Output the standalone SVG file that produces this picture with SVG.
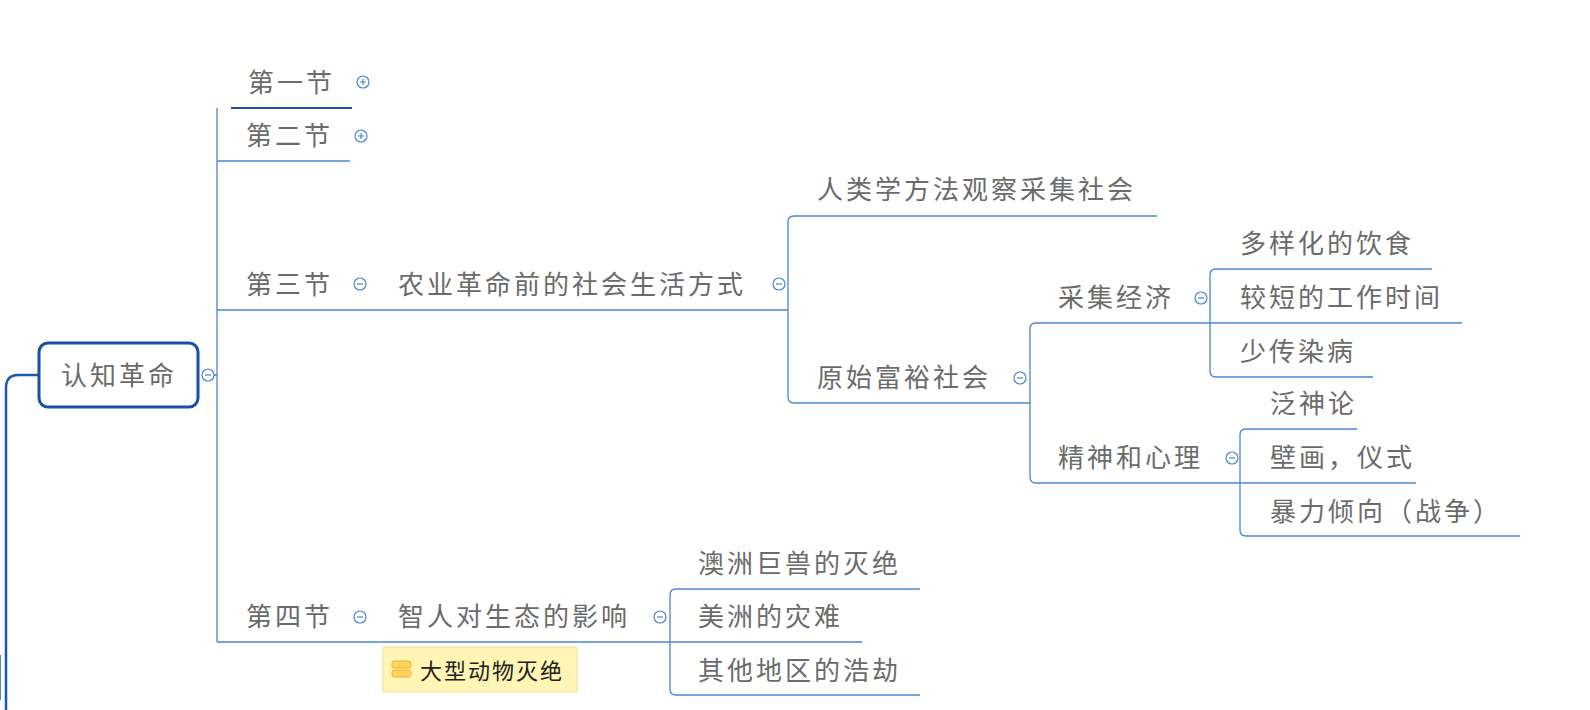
<svg xmlns="http://www.w3.org/2000/svg" width="1590" height="710" viewBox="0 0 1590 710">
<style>
text{font-family:"Liberation Sans","Noto Sans CJK SC",sans-serif;font-size:26px;letter-spacing:3px;fill:#6b6b6b}
.l{fill:none;stroke:#4a86d0;stroke-width:1.3}
.ic{fill:#fff;stroke:#4a86d0;stroke-width:1.2}
.ip{stroke:#4a86d0;stroke-width:1.2}
</style>
<rect width="1590" height="710" fill="#fff"/>
<g id="connectors">
<path class="l" d="M39 375 H18 Q6 375 6 388 V710" style="stroke:#1a56b8;stroke-width:2.5"/>
<path class="l" d="M0 655 V700" style="stroke:#1a56b8;stroke-width:1.5"/>
<path class="l" d="M214 375 H217 M217 108 V642"/>
<path class="l" d="M231 108 H352" style="stroke:#1a4fa8;stroke-width:2"/>
<path class="l" d="M217 161 H350 M217 310 H788 M217 642 H670"/>
<path class="l" d="M788 310 V222 Q788 216 794 216 H1157 M788 310 V397 Q788 403 794 403 H1030"/>
<path class="l" d="M1030 403 V329 Q1030 323 1036 323 H1210 M1030 403 V477 Q1030 483 1036 483 H1240"/>
<path class="l" d="M1210 323 V275 Q1210 269 1216 269 H1432 M1210 323 H1462 M1210 323 V371 Q1210 377 1216 377 H1373"/>
<path class="l" d="M1240 483 V435 Q1240 429 1246 429 H1357 M1240 483 H1416 M1240 483 V530 Q1240 536 1246 536 H1520"/>
<path class="l" d="M670 642 V595 Q670 589 676 589 H920 M670 642 H862 M670 642 V689 Q670 695 676 695 H920"/>
</g>
<g id="root">
<rect x="39" y="343" width="159" height="64" rx="9" fill="#fff" stroke="#1a4fa8" stroke-width="3"/>
<text x="61" y="385">认知革命</text>
<circle class="ic" cx="208" cy="375" r="6"/><path class="ip" d="M205 375h6"/>
</g>
<g id="n1"><text x="248" y="92">第一节</text><circle class="ic" cx="363" cy="82" r="6"/><path class="ip" d="M360 82h6M363 79v6"/></g>
<g id="n2"><text x="246" y="145">第二节</text><circle class="ic" cx="361" cy="136" r="6"/><path class="ip" d="M358 136h6M361 133v6"/></g>
<g id="n3"><text x="246" y="294">第三节</text><circle class="ic" cx="360" cy="284" r="6"/><path class="ip" d="M357 284h6"/></g>
<g id="n3a"><text x="398" y="294">农业革命前的社会生活方式</text><circle class="ic" cx="779" cy="284" r="6"/><path class="ip" d="M776 284h6"/></g>
<g id="n3a1"><text x="817" y="199">人类学方法观察采集社会</text></g>
<g id="n3a2"><text x="817" y="387">原始富裕社会</text><circle class="ic" cx="1020" cy="378" r="6"/><path class="ip" d="M1017 378h6"/></g>
<g id="n3b1"><text x="1058" y="307">采集经济</text><circle class="ic" cx="1201" cy="298" r="6"/><path class="ip" d="M1198 298h6"/></g>
<g id="n3b2"><text x="1058" y="467">精神和心理</text><circle class="ic" cx="1232" cy="458" r="6"/><path class="ip" d="M1229 458h6"/></g>
<g id="c1"><text x="1240" y="253">多样化的饮食</text></g>
<g id="c2"><text x="1240" y="307">较短的工作时间</text></g>
<g id="c3"><text x="1240" y="361">少传染病</text></g>
<g id="d1"><text x="1270" y="413">泛神论</text></g>
<g id="d2"><text x="1270" y="467">壁画，仪式</text></g>
<g id="d3"><text x="1270" y="521">暴力倾向（战争）</text></g>
<g id="n4"><text x="246" y="626">第四节</text><circle class="ic" cx="360" cy="617" r="6"/><path class="ip" d="M357 617h6"/></g>
<g id="n4a"><text x="398" y="626">智人对生态的影响</text><circle class="ic" cx="660" cy="617" r="6"/><path class="ip" d="M657 617h6"/></g>
<g id="e1"><text x="698" y="573">澳洲巨兽的灭绝</text></g>
<g id="e2"><text x="698" y="626">美洲的灾难</text></g>
<g id="e3"><text x="698" y="680">其他地区的浩劫</text></g>
<g id="label">
<rect x="383" y="647" width="194" height="45" fill="#fff5b5" stroke="#f3e28c"/>
<rect x="392" y="661" width="19" height="7" rx="2" fill="#ffd35c" stroke="#f0b030"/>
<rect x="392" y="670" width="19" height="7" rx="2" fill="#ffd35c" stroke="#f0b030"/>
<text x="420" y="679" style="font-size:22px;letter-spacing:2px;fill:#222">大型动物灭绝</text>
</g>
</svg>
